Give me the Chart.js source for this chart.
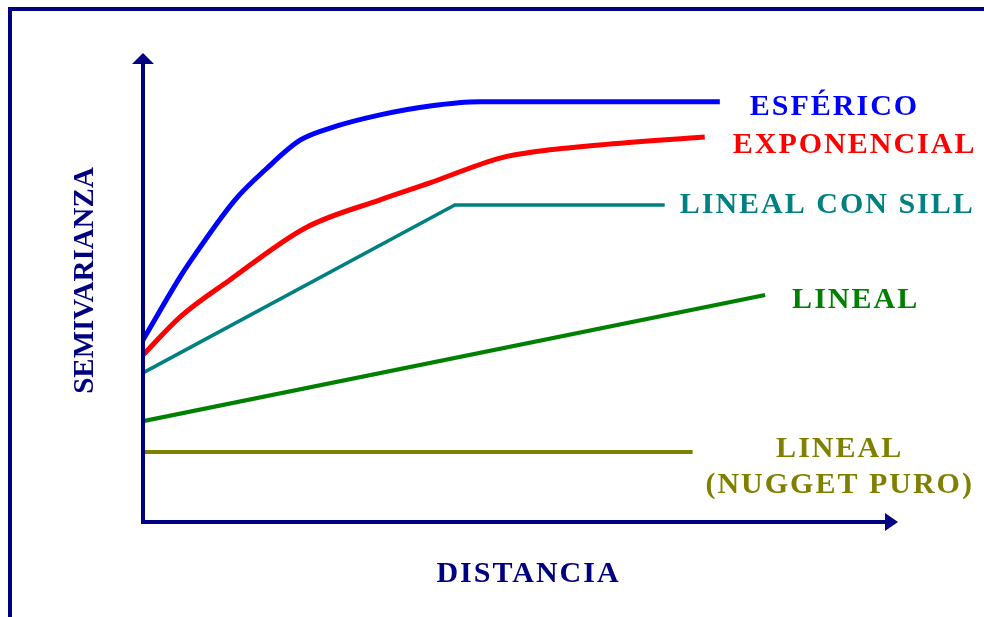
<!DOCTYPE html>
<html>
<head>
<meta charset="utf-8">
<script src="https://cdn.jsdelivr.net/npm/chart.js@4.4.1/dist/chart.umd.min.js"></script>
<style>
  html, body { margin: 0; padding: 0; background: #fff; }
  #wrap { position: relative; width: 984px; height: 617px; overflow: hidden; }
  #chart { position: absolute; left: 0; top: 0; }
  #frame {
    position: absolute; left: 8px; top: 7px; width: 990px; height: 620px;
    border-left: 4px solid #000080; border-top: 4px solid #000080;
    pointer-events: none;
  }
</style>
</head>
<body>
<div id="wrap">
  <canvas id="chart" width="984" height="617"></canvas>
  <div id="frame"></div>
</div>
<script>
// ─── DATA (distance vs semivariance, arbitrary units 0–100) ─────────────────
const SERIES_NAMES = ['ESFÉRICO', 'EXPONENCIAL', 'LINEAL CON SILL', 'LINEAL', 'LINEAL (NUGGET PURO)'];

const ESFERICO_X = [0, 4.9, 6.2, 12.2, 16.2, 20.8, 24.8, 31.4, 38.0, 44.6, 76.4];
const ESFERICO_Y = [38.8, 52.2, 55.4, 68.7, 75.1, 81.4, 84.0, 86.8, 88.7, 89.6, 89.6];

const EXPONENCIAL_X = [0, 4.9, 11.5, 21.5, 31.4, 38.0, 47.3, 52.6, 60.5, 74.4];
const EXPONENCIAL_Y = [35.6, 43.7, 51.6, 62.7, 68.7, 72.3, 77.6, 79.1, 80.4, 82.1];

const SILL_X = [0, 41.3, 69.1];
const SILL_Y = [31.8, 67.6, 67.6];

const LINEAL_X = [0, 82.4];
const LINEAL_Y = [21.5, 48.4];

const NUGGET_X = [0, 72.8];
const NUGGET_Y = [14.9, 14.9];

const X_TITLE = 'DISTANCIA';
const Y_TITLE = 'SEMIVARIANZA';

// ─── STYLE ───────────────────────────────────────────────────────────────────
const NAVY   = '#000080';
const COLORS = ['#0000ff', '#ff0000', '#008080', '#008000', '#808000'];
const WIDTHS = [5, 5, 3.5, 4, 4];
const LABEL_LINES = [['ESFÉRICO'], ['EXPONENCIAL'], ['LINEAL CON SILL'], ['LINEAL'], ['LINEAL', '(NUGGET PURO)']];
// label offset from the last point of each line: [dx, dy, align]
const LABEL_OFFSETS = [[30, 3, 'left'], [28, 6, 'left'], [15, -2, 'left'], [27, 3, 'left'], [147, -5, 'center']];
const LABEL_FONT = 'bold 30px "Liberation Serif", "Times New Roman", serif';

function toPoints(xs, ys) {
  return xs.map((x, i) => ({ x, y: ys[i] }));
}

const seriesData = [
  toPoints(ESFERICO_X, ESFERICO_Y),
  toPoints(EXPONENCIAL_X, EXPONENCIAL_Y),
  toPoints(SILL_X, SILL_Y),
  toPoints(LINEAL_X, LINEAL_Y),
  toPoints(NUGGET_X, NUGGET_Y),
];

// ─── AXES + LABELS PLUGIN ────────────────────────────────────────────────────
const decorPlugin = {
  id: 'decor',
  afterDatasetsDraw(chart) {
    const { ctx, chartArea, scales } = chart;
    const x0 = scales.x.getPixelForValue(0);
    const y0 = scales.y.getPixelForValue(0);
    const xEnd = chartArea.right;
    const yEnd = chartArea.top;

    ctx.save();
    // axes
    ctx.strokeStyle = NAVY;
    ctx.fillStyle = NAVY;
    ctx.lineWidth = 4;
    ctx.lineCap = 'butt';
    ctx.beginPath();
    ctx.moveTo(x0, y0 + 2);
    ctx.lineTo(x0, yEnd + 8);
    ctx.moveTo(x0 - 2, y0);
    ctx.lineTo(xEnd - 8, y0);
    ctx.stroke();
    // arrow heads
    ctx.beginPath();
    ctx.moveTo(x0, yEnd);
    ctx.lineTo(x0 - 11, yEnd + 11);
    ctx.lineTo(x0 + 11, yEnd + 11);
    ctx.closePath();
    ctx.fill();
    ctx.beginPath();
    ctx.moveTo(xEnd, y0);
    ctx.lineTo(xEnd - 13, y0 - 9);
    ctx.lineTo(xEnd - 13, y0 + 9);
    ctx.closePath();
    ctx.fill();

    // series labels
    ctx.font = LABEL_FONT;
    ctx.letterSpacing = '2px';
    ctx.textBaseline = 'alphabetic';
    chart.data.datasets.forEach((ds, i) => {
      const meta = chart.getDatasetMeta(i);
      const last = meta.data[meta.data.length - 1];
      const [dx, dy, align] = LABEL_OFFSETS[i];
      ctx.fillStyle = COLORS[i];
      ctx.textAlign = align;
      LABEL_LINES[i].forEach((line, j) => {
        ctx.fillText(line, last.x + dx, last.y + dy + 10 + j * 36);
      });
    });

    // axis titles
    ctx.fillStyle = NAVY;
    ctx.textAlign = 'center';
    ctx.fillText(X_TITLE, (x0 + xEnd) / 2 + 8, y0 + 60);
    ctx.letterSpacing = '0px';
    ctx.font = 'bold 29px "Liberation Serif", "Times New Roman", serif';
    ctx.translate(x0 - 50, (y0 + yEnd) / 2 - 7);
    ctx.rotate(-Math.PI / 2);
    ctx.fillText(Y_TITLE, 0, 0);
    ctx.restore();
  }
};

// ─── CHART ───────────────────────────────────────────────────────────────────
new Chart(document.getElementById('chart'), {
  type: 'line',
  data: {
    datasets: seriesData.map((pts, i) => ({
      label: SERIES_NAMES[i],
      data: pts,
      borderColor: COLORS[i],
      borderWidth: WIDTHS[i],
      pointRadius: 0,
      cubicInterpolationMode: i < 2 ? 'monotone' : 'default',
      tension: 0,
      fill: false,
    }))
  },
  options: {
    responsive: false,
    animation: false,
    layout: { padding: { left: 143, right: 86, top: 53, bottom: 95 } },
    plugins: { legend: { display: false }, tooltip: { enabled: false } },
    scales: {
      x: { type: 'linear', min: 0, max: 100, display: false },
      y: { type: 'linear', min: 0, max: 100, display: false },
    }
  },
  plugins: [decorPlugin]
});
</script>
</body>
</html>
